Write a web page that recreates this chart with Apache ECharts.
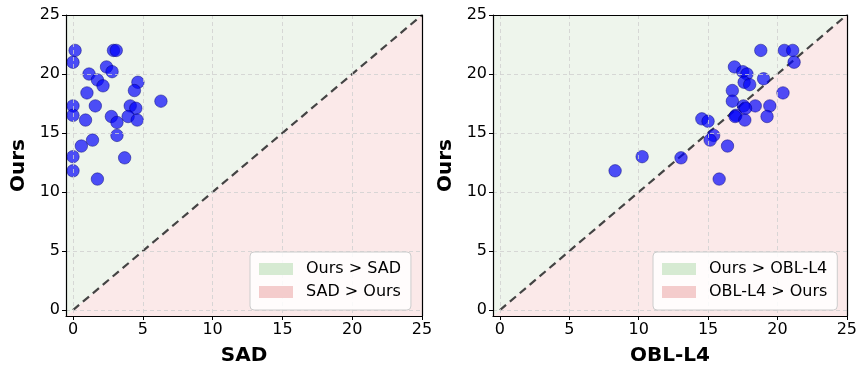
<!DOCTYPE html>
<html><head><meta charset="utf-8">
<script src="https://cdn.jsdelivr.net/npm/echarts@6/dist/echarts.min.js"></script>
<style>html,body{margin:0;padding:0;background:#fff}#c{width:860px;height:371px}</style>
</head><body><div id="c"></div>
<script>
// ---- data ----
const sadX  = [0.15,0,2.9,3.1,2.4,2.8,1.15,1.75,2.15,4.65,4.4,1.0,6.3,0,1.6,4.1,4.5,0,0.9,2.75,3.15,3.95,4.6,3.15,1.4,0.6,0,3.7,0,1.75];
const oursA = [22,21,22,22,20.6,20.2,20.0,19.5,19.0,19.3,18.6,18.4,17.7,17.3,17.3,17.3,17.1,16.5,16.1,16.4,15.9,16.4,16.1,14.8,14.4,13.9,13.0,12.9,11.8,11.1];
const oblX  = [18.8,20.5,21.1,21.2,16.9,17.5,17.8,19.0,17.6,18.0,20.4,16.75,16.75,17.55,18.4,19.45,17.7,17.0,16.95,17.65,19.25,14.55,15.0,15.4,15.15,16.4,10.25,13.05,8.3,15.8];
const oursB = [22,22,22,21.0,20.6,20.2,20.0,19.6,19.3,19.1,18.4,18.6,17.7,17.3,17.3,17.3,17.1,16.5,16.4,16.1,16.4,16.2,16.0,14.8,14.4,13.9,13.0,12.9,11.8,11.1];
const tickVals = [0,5,10,15,20,25];
const axisMin = -0.5, axisMax = 25;
const diag = [0,25];
const panels = [
  {xName:'SAD', x:sadX, y:oursA, better:'Ours > SAD', worse:'SAD > Ours'},
  {xName:'OBL-L4', x:oblX, y:oursB, better:'Ours > OBL-L4', worse:'OBL-L4 > Ours'}
];
// ---- layout ----
const FONT = 'DejaVu Sans';
const grids = [
  {left:66, top:15, width:356, height:304},
  {left:493, top:15, width:356, height:304}
];
const greenFill = '#eef5ec', pinkFill = '#fbe9e9';
const greenPatch = '#d6ead2', pinkPatch = '#f4cccc';

const xAxes = [], yAxes = [], series = [], legends = [];
panels.forEach((p, i) => {
  const common = {min:axisMin, max:axisMax, gridIndex:i};
  xAxes.push(Object.assign({type:'value', position:'bottom', name:p.xName, nameLocation:'middle', nameGap:30,
    nameTextStyle:{fontFamily:FONT, fontWeight:'bold', fontSize:20, color:'#000'},
    axisLine:{show:true, onZero:false, lineStyle:{color:'#000', width:1.2}},
    axisTick:{show:true, customValues:tickVals, length:4, lineStyle:{color:'#000', width:1}},
    axisLabel:{customValues:tickVals, fontFamily:FONT, fontSize:16, color:'#000', margin:6},
    splitLine:{show:true, lineStyle:{color:'#cfcfcf', type:[4,3], width:0.8}}, z:10}, common));
  xAxes.push(Object.assign({type:'value', position:'top', show:true,
    axisLine:{show:true, onZero:false, lineStyle:{color:'#000', width:1.2}},
    axisTick:{show:false}, axisLabel:{show:false}, splitLine:{show:false}, z:10}, common));
  yAxes.push(Object.assign({type:'value', position:'left', name:'Ours', nameLocation:'middle', nameGap:37, nameRotate:90,
    nameTextStyle:{fontFamily:FONT, fontWeight:'bold', fontSize:20, color:'#000'},
    axisLine:{show:true, onZero:false, lineStyle:{color:'#000', width:1.2}},
    axisTick:{show:true, customValues:tickVals, length:4, lineStyle:{color:'#000', width:1}},
    axisLabel:{customValues:tickVals, fontFamily:FONT, fontSize:16, color:'#000', margin:6},
    splitLine:{show:true, lineStyle:{color:'#cfcfcf', type:[4,3], width:0.8}}, z:10}, common));
  yAxes.push(Object.assign({type:'value', position:'right', show:true,
    axisLine:{show:true, onZero:false, lineStyle:{color:'#000', width:1.2}},
    axisTick:{show:false}, axisLabel:{show:false}, splitLine:{show:false}, z:10}, common));
  const xi = i*2, yi = i*2;
  const poly = (verts, fill, name) => ({
    type:'custom', name, xAxisIndex:xi, yAxisIndex:yi, z:1, silent:true,
    itemStyle:{color:fill},
    data:[0],
    renderItem:(params, api) => ({type:'polygon', shape:{points:verts.map(v => api.coord(v))}, style:{fill}})
  });
  series.push(poly([[axisMin,axisMin],[axisMin,axisMax],[axisMax,axisMax]], greenFill, p.better));
  series.push(poly([[axisMin,axisMin],[axisMax,axisMin],[axisMax,axisMax]], pinkFill, p.worse));
  series.push({type:'line', xAxisIndex:xi, yAxisIndex:yi, z:3, symbol:'none', silent:true,
    data:[[diag[0],diag[0]],[diag[1],diag[1]]],
    lineStyle:{color:'#444', width:2.2, type:[8,5]}});
  series.push({type:'scatter', xAxisIndex:xi, yAxisIndex:yi, z:4, symbolSize:12.5,
    data:p.x.map((v,k)=>[v,p.y[k]]),
    itemStyle:{color:'rgba(0,0,250,0.86)', borderColor:'rgba(0,0,110,0.7)', borderWidth:0.8}});
  legends.push({
    left: i===0 ? 250 : 653, top:252, orient:'vertical',
    data:[{name:p.better, itemStyle:{color:greenPatch}}, {name:p.worse, itemStyle:{color:pinkPatch}}],
    icon:'rect', itemWidth:34, itemHeight:12, itemGap:7,
    padding:[9,10,10,9], backgroundColor:'rgba(255,255,255,0.85)', borderColor:'#cccccc', borderWidth:1, borderRadius:4,
    textStyle:{fontFamily:FONT, fontSize:16, color:'#000', padding:[0,0,0,8]},
    selectedMode:false, z:20
  });
});

const chart = echarts.init(document.getElementById('c'), null, {renderer:'canvas'});
chart.setOption({
  animation:false,
  backgroundColor:'#fff',
  grid:grids.map(g=>Object.assign({containLabel:false}, g)),
  xAxis:xAxes, yAxis:yAxes, series, legend:legends
});
</script></body></html>
